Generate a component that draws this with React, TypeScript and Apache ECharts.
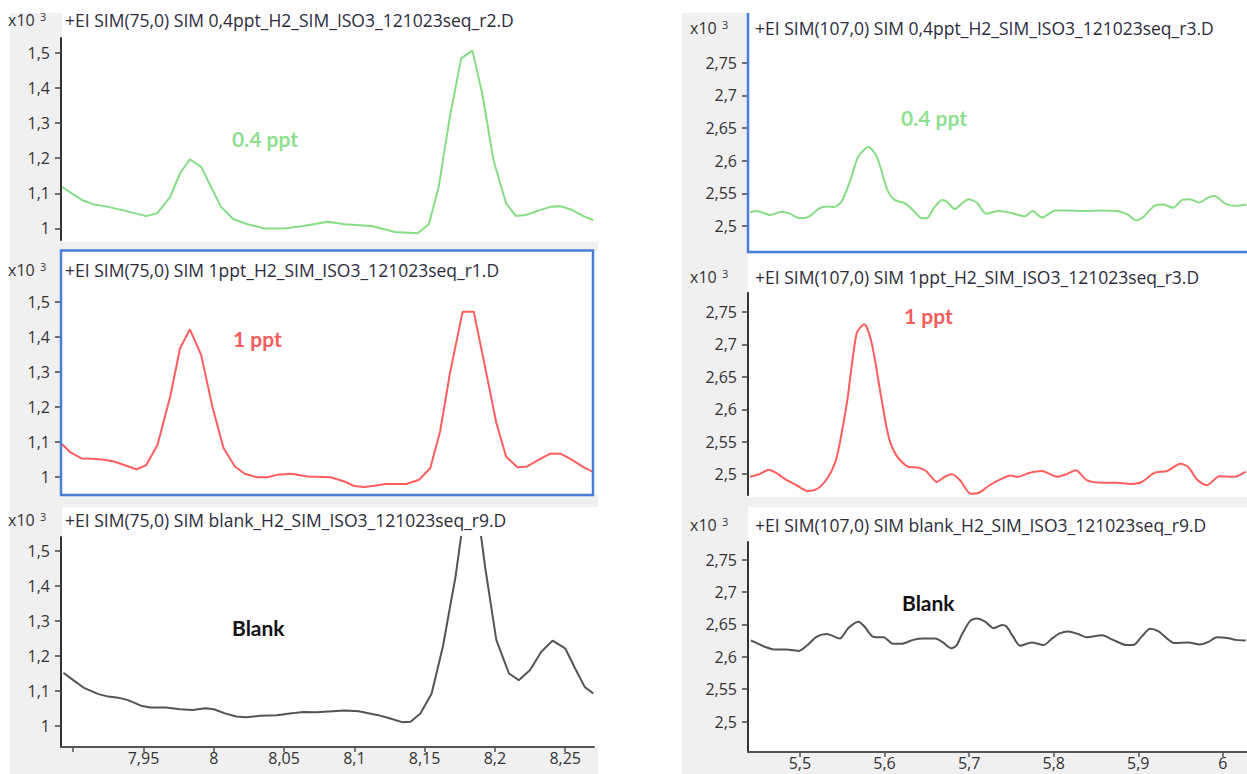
import React, { useEffect, useRef } from "react";
import * as echarts from "echarts";

// Retention time (min) / abundance (counts) pairs for each SIM trace
const sim75_04ppt: [number, number][] = [
  [7.892, 1118], [7.906, 1081], [7.914, 1069], [7.924, 1062], [7.935, 1052], [7.952, 1035],
  [7.96, 1044], [7.969, 1090], [7.976, 1157], [7.983, 1197], [7.991, 1175], [8.005, 1062],
  [8.014, 1026], [8.024, 1012], [8.036, 1000], [8.05, 1000], [8.064, 1007], [8.081, 1019],
  [8.093, 1012], [8.112, 1007], [8.129, 990], [8.145, 986], [8.153, 1012], [8.16, 1118],
  [8.168, 1318], [8.176, 1484], [8.184, 1506], [8.191, 1384], [8.199, 1194], [8.208, 1071],
  [8.215, 1035], [8.222, 1038], [8.232, 1052], [8.24, 1062], [8.247, 1063], [8.254, 1054],
  [8.263, 1035], [8.27, 1024],
];

const sim75_1ppt: [number, number][] = [
  [7.892, 1093], [7.898, 1069], [7.906, 1052], [7.914, 1051], [7.922, 1048], [7.929, 1043],
  [7.945, 1021], [7.952, 1033], [7.96, 1091], [7.969, 1229], [7.976, 1367], [7.983, 1421],
  [7.991, 1348], [7.999, 1200], [8.007, 1081], [8.015, 1029], [8.022, 1008], [8.031, 998],
  [8.038, 998], [8.045, 1005], [8.055, 1008], [8.067, 1000], [8.083, 998], [8.093, 986],
  [8.1, 973], [8.107, 970], [8.114, 974], [8.122, 979], [8.137, 979], [8.146, 991],
  [8.154, 1024], [8.161, 1129], [8.168, 1295], [8.177, 1471], [8.185, 1471], [8.192, 1333],
  [8.201, 1154], [8.208, 1057], [8.216, 1027], [8.223, 1029], [8.232, 1050], [8.239, 1065],
  [8.247, 1065], [8.254, 1050], [8.263, 1027], [8.27, 1013],
];

const sim75_blank: [number, number][] = [
  [7.893, 1152], [7.9, 1131], [7.908, 1108], [7.918, 1091], [7.925, 1084], [7.932, 1081],
  [7.939, 1074], [7.949, 1057], [7.955, 1053], [7.966, 1053], [7.976, 1048], [7.985, 1046],
  [7.994, 1051], [8.0, 1048], [8.008, 1036], [8.016, 1027], [8.023, 1025], [8.033, 1029],
  [8.045, 1031], [8.054, 1036], [8.064, 1040], [8.073, 1039], [8.093, 1044], [8.103, 1042],
  [8.117, 1031], [8.125, 1022], [8.134, 1011], [8.14, 1012], [8.147, 1036], [8.155, 1093],
  [8.163, 1227], [8.172, 1427], [8.18, 1660], [8.187, 1640], [8.193, 1455], [8.201, 1246],
  [8.21, 1150], [8.217, 1131], [8.225, 1160], [8.233, 1212], [8.241, 1244], [8.25, 1222],
  [8.257, 1165], [8.264, 1111], [8.27, 1093],
];

const sim107_04ppt: [number, number][] = [
  [5.441, 2521], [5.449, 2523], [5.465, 2517], [5.478, 2522], [5.488, 2519], [5.5, 2512],
  [5.51, 2514], [5.523, 2527], [5.532, 2530], [5.54, 2529], [5.549, 2537], [5.559, 2568],
  [5.569, 2606], [5.581, 2621], [5.591, 2606], [5.604, 2553], [5.612, 2540], [5.624, 2535],
  [5.634, 2524], [5.644, 2512], [5.65, 2512], [5.658, 2527], [5.668, 2540], [5.674, 2537],
  [5.683, 2526], [5.691, 2534], [5.699, 2541], [5.709, 2536], [5.72, 2519], [5.735, 2523],
  [5.753, 2519], [5.766, 2515], [5.775, 2523], [5.786, 2513], [5.802, 2524], [5.817, 2524],
  [5.835, 2523], [5.855, 2524], [5.875, 2523], [5.888, 2517], [5.897, 2509], [5.906, 2514],
  [5.919, 2531], [5.93, 2533], [5.941, 2528], [5.952, 2540], [5.961, 2541], [5.972, 2536],
  [5.983, 2544], [5.99, 2546], [6.003, 2534], [6.016, 2531], [6.028, 2533],
];

const sim107_1ppt: [number, number][] = [
  [5.441, 2496], [5.452, 2500], [5.463, 2507], [5.472, 2502], [5.483, 2492], [5.496, 2483],
  [5.509, 2474], [5.521, 2478], [5.532, 2493], [5.541, 2516], [5.547, 2547], [5.556, 2614],
  [5.567, 2717], [5.576, 2731], [5.585, 2701], [5.596, 2619], [5.605, 2557], [5.614, 2529],
  [5.627, 2512], [5.64, 2510], [5.649, 2505], [5.662, 2488], [5.671, 2496], [5.68, 2500],
  [5.689, 2491], [5.702, 2470], [5.711, 2471], [5.724, 2483], [5.737, 2492], [5.749, 2498],
  [5.757, 2496], [5.771, 2502], [5.786, 2505], [5.804, 2496], [5.815, 2500], [5.826, 2506],
  [5.839, 2491], [5.857, 2487], [5.875, 2487], [5.89, 2485], [5.904, 2488], [5.919, 2502],
  [5.934, 2505], [5.95, 2516], [5.959, 2511], [5.97, 2491], [5.981, 2483], [5.996, 2497],
  [6.014, 2496], [6.027, 2504],
];

const sim107_blank: [number, number][] = [
  [5.442, 2625], [5.449, 2621], [5.459, 2615], [5.471, 2611], [5.484, 2611], [5.492, 2610],
  [5.499, 2609], [5.508, 2617], [5.52, 2631], [5.532, 2635], [5.547, 2628], [5.557, 2644],
  [5.569, 2654], [5.576, 2647], [5.585, 2632], [5.591, 2630], [5.599, 2630], [5.61, 2620],
  [5.62, 2620], [5.634, 2626], [5.646, 2628], [5.66, 2628], [5.669, 2622], [5.679, 2613],
  [5.685, 2617], [5.691, 2633], [5.701, 2655], [5.709, 2659], [5.719, 2654], [5.729, 2644],
  [5.739, 2649], [5.744, 2647], [5.752, 2631], [5.76, 2617], [5.774, 2622], [5.788, 2618],
  [5.798, 2628], [5.807, 2636], [5.817, 2639], [5.829, 2635], [5.839, 2630], [5.857, 2633],
  [5.87, 2626], [5.886, 2618], [5.894, 2618], [5.904, 2631], [5.914, 2643], [5.924, 2639],
  [5.934, 2628], [5.943, 2621], [5.959, 2622], [5.973, 2619], [5.983, 2623], [5.993, 2630],
  [6.005, 2629], [6.016, 2626], [6.027, 2625],
];

// Axis ticks and labels
const xTicks75 = [7.9, 7.95, 8, 8.05, 8.1, 8.15, 8.2, 8.25];
const xLabels75 = [7.95, 8, 8.05, 8.1, 8.15, 8.2, 8.25];
const xTicks107 = [5.5, 5.6, 5.7, 5.8, 5.9, 6];
const yTicks75 = [1000, 1100, 1200, 1300, 1400, 1500];
const yTicks107 = [2500, 2550, 2600, 2650, 2700, 2750];

const titles = [
  "+EI SIM(75,0) SIM 0,4ppt_H2_SIM_ISO3_121023seq_r2.D",
  "+EI SIM(75,0) SIM 1ppt_H2_SIM_ISO3_121023seq_r1.D",
  "+EI SIM(75,0) SIM blank_H2_SIM_ISO3_121023seq_r9.D",
  "+EI SIM(107,0) SIM 0,4ppt_H2_SIM_ISO3_121023seq_r3.D",
  "+EI SIM(107,0) SIM 1ppt_H2_SIM_ISO3_121023seq_r3.D",
  "+EI SIM(107,0) SIM blank_H2_SIM_ISO3_121023seq_r9.D",
];
const sampleNames = ["0.4 ppt", "1 ppt", "Blank"];

const GREEN = "#86dd86";
const RED = "#ff5e5e";
const GRAY_LINE = "#545454";
const BLUE = "#4a7fd6";
const PANEL_BG = "#f0f0f0";
const UI_FONT = "'Open Sans', 'Liberation Sans', sans-serif";
const NOTE_FONT = "Lato, 'Open Sans', sans-serif";

const commaNum = (v: number, d: number) =>
  String(Number(v.toFixed(d))).replace(".", ",");

export default function App() {
  const ref = useRef<HTMLDivElement>(null);

  useEffect(() => {
    document.body.style.margin = "0";
    const chart = echarts.init(ref.current!, undefined, { renderer: "svg" });

    // grid boxes: [left, top, width, height, xMin, xMax, yMin, yMax]
    const boxes: number[][] = [
      [61, 38, 533, 202, 7.8913, 8.2705, 967, 1542],
      [61, 287, 533, 205, 7.8913, 8.2705, 956, 1542],
      [61, 537, 533, 210, 7.8913, 8.2705, 940, 1540],
      [748, 47, 499, 200, 5.4386, 6.0285, 2468, 2774],
      [748, 293, 499, 202, 5.4386, 6.0285, 2468, 2779],
      [748, 542, 499, 210, 5.4386, 6.0285, 2453, 2777],
    ];
    const traces = [sim75_04ppt, sim75_1ppt, sim75_blank, sim107_04ppt, sim107_1ppt, sim107_blank];
    const colors = [GREEN, RED, GRAY_LINE, GREEN, RED, GRAY_LINE];

    const grid = boxes.map((b) => ({ left: b[0], top: b[1], width: b[2], height: b[3], containLabel: false }));

    const xAxis = boxes.map((b, i) => {
      const bottom = i === 2 || i === 5;
      const left = i < 3;
      return {
        type: "value",
        gridIndex: i,
        min: b[4],
        max: b[5],
        show: bottom,
        splitLine: { show: false },
        axisLine: { show: bottom, onZero: false, lineStyle: { color: "#555", width: 2 } },
        axisTick: {
          show: bottom,
          length: 5,
          lineStyle: { color: "#555", width: 1.5 },
          customValues: left ? xTicks75 : xTicks107,
        },
        axisLabel: {
          show: bottom,
          margin: 3,
          color: "#333",
          fontFamily: UI_FONT,
          fontSize: 16,
          lineHeight: 16,
          customValues: left ? xLabels75 : xTicks107,
          formatter: (v: number) => commaNum(v, 2),
        },
      };
    });

    const yAxis = boxes.map((b, i) => {
      const left = i < 3;
      return {
        type: "value",
        gridIndex: i,
        min: b[6],
        max: b[7],
        splitLine: { show: false },
        axisLine: { show: true, onZero: false, lineStyle: { color: "#333", width: 2 } },
        axisTick: {
          show: true,
          length: 6,
          lineStyle: { color: "#444", width: 1.5 },
          customValues: left ? yTicks75 : yTicks107,
        },
        axisLabel: {
          margin: 11,
          color: "#333",
          fontFamily: UI_FONT,
          fontSize: 16,
          customValues: left ? yTicks75 : yTicks107,
          formatter: (v: number) => commaNum(v / 1000, 2),
        },
      };
    });

    const series = traces.map((d, i) => ({
      type: "line",
      xAxisIndex: i,
      yAxisIndex: i,
      data: d,
      showSymbol: false,
      clip: true,
      smooth: i < 3 ? false : 0.25,
      lineStyle: { color: colors[i], width: 2 },
    }));

    // panel backgrounds, borders and header texts
    const bg: any[] = [
      { type: "rect", shape: { x: 10, y: 13, width: 588, height: 761 }, style: { fill: PANEL_BG }, z: -10 },
      { type: "rect", shape: { x: 682, y: 13, width: 565, height: 761 }, style: { fill: PANEL_BG }, z: -10 },
      // white plot / header areas
      { type: "rect", shape: { x: 62, y: 13, width: 536, height: 229 }, style: { fill: "#fff" }, z: -9 },
      { type: "rect", shape: { x: 62, y: 251, width: 536, height: 244 }, style: { fill: "#fff" }, z: -9 },
      { type: "rect", shape: { x: 62, y: 507, width: 536, height: 240 }, style: { fill: "#fff" }, z: -9 },
      { type: "rect", shape: { x: 748, y: 13, width: 499, height: 239 }, style: { fill: "#fff" }, z: -9 },
      { type: "rect", shape: { x: 748, y: 254, width: 499, height: 243 }, style: { fill: "#fff" }, z: -9 },
      { type: "rect", shape: { x: 748, y: 507, width: 499, height: 245 }, style: { fill: "#fff" }, z: -9 },
      // selection frames
      {
        type: "rect",
        shape: { x: 61, y: 250.5, width: 532, height: 244.5 },
        style: { fill: "none", stroke: BLUE, lineWidth: 2.5 },
        z: 50,
      },
      {
        type: "polyline",
        shape: { points: [[748, 13], [748, 252], [1247, 252]] },
        style: { fill: "none", stroke: BLUE, lineWidth: 2.5 },
        z: 50,
      },
    ];

    const headerY = [20, 270, 520, 28, 277, 525];
    const headerX = [8, 8, 8, 690, 690, 690];
    const titleX = [65, 65, 65, 755, 755, 755];
    const headers: any[] = [];
    headerY.forEach((y, i) => {
      headers.push({
        type: "text",
        x: headerX[i],
        y,
        style: { text: "x10", fill: "#333", font: `16px ${UI_FONT}`, textVerticalAlign: "middle" },
        z: 60,
      });
      headers.push({
        type: "text",
        x: headerX[i] + 32,
        y: y - 4,
        style: { text: "3", fill: "#333", font: `11px ${UI_FONT}`, textVerticalAlign: "middle" },
        z: 60,
      });
      headers.push({
        type: "text",
        x: titleX[i],
        y,
        style: { text: titles[i], fill: "#2c2c3c", font: `17.5px ${UI_FONT}`, textVerticalAlign: "middle" },
        z: 60,
      });
    });

    const noteX = [232, 233, 232, 901, 904, 902];
    const noteY = [138, 338, 627, 117, 315, 602];
    const noteColor = ["#8fe08f", "#f55c5c", "#111", "#8fe08f", "#f55c5c", "#111"];
    const notes = noteX.map((x, i) => ({
      type: "text",
      x,
      y: noteY[i],
      style: {
        text: sampleNames[i % 3],
        fill: noteColor[i],
        font: `bold 21px ${NOTE_FONT}`,
        textVerticalAlign: "middle",
      },
      z: 60,
    }));

    chart.setOption({
      animation: false,
      backgroundColor: "#fff",
      grid,
      xAxis,
      yAxis,
      series,
      graphic: { elements: [...bg, ...headers, ...notes] },
    });

    return () => chart.dispose();
  }, []);

  return <div ref={ref} style={{ width: 1247, height: 774 }} />;
}
